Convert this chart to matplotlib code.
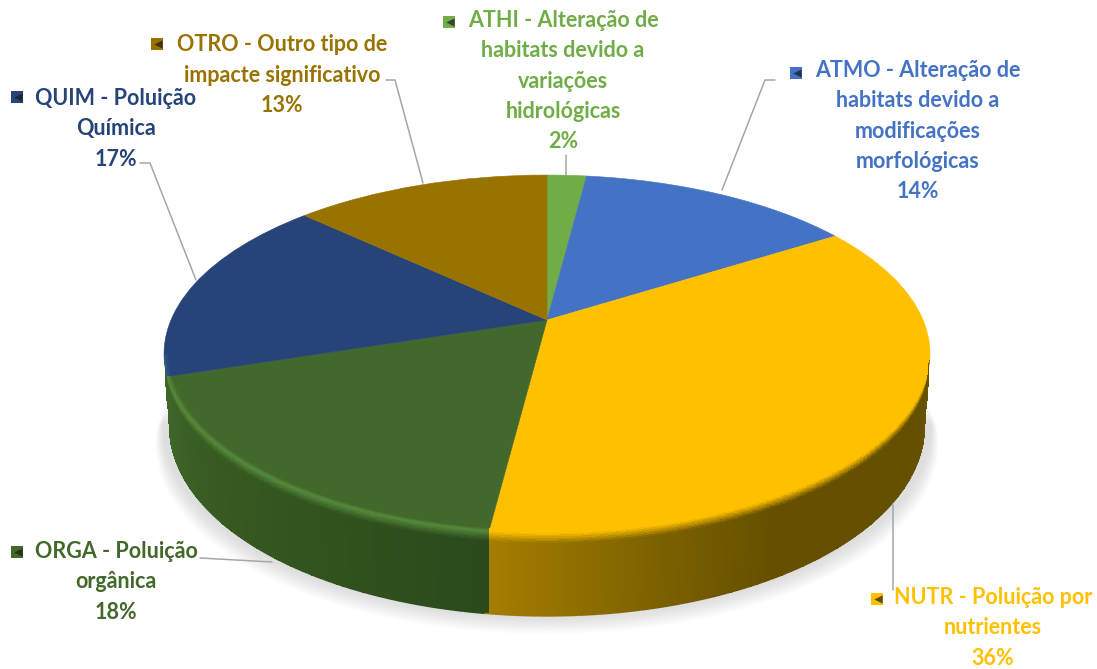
import numpy as np
import matplotlib
matplotlib.use("Agg")
import matplotlib.pyplot as plt
from matplotlib.transforms import Transform
from matplotlib.colors import to_rgb

codes = ["ATHI", "ATMO", "NUTR", "ORGA", "QUIM", "OTRO"]
values = [2, 14, 36, 18, 17, 13]
labels = [
    "ATHI - Alteração de\nhabitats devido a\nvariações\nhidrológicas\n2%",
    "ATMO - Alteração de\nhabitats devido a\nmodificações\nmorfológicas\n14%",
    "NUTR - Poluição por\nnutrientes\n36%",
    "ORGA - Poluição\norgânica\n18%",
    "QUIM - Poluição\nQuímica\n17%",
    "OTRO - Outro tipo de\nimpacte significativo\n13%",
]
face_colors = ["#70ad47", "#4472c4", "#ffc000", "#43682b", "#264478", "#997300"]

W, H = 1097, 669
CX, CY, AX, BY, K = 547.0, 320.0, 376.0, 172.5, 0.19


class Perspective(Transform):
    input_dims = output_dims = 2
    is_separable = False
    has_inverse = False

    def transform_non_affine(self, pts):
        pts = np.asarray(pts, float)
        den = 1 + K * pts[:, 1]
        return np.column_stack((CX + AX * pts[:, 0] / den, CY - BY * pts[:, 1] / den))


persp = Perspective()


def rim(theta, r=1.0):
    return persp.transform_non_affine(
        np.column_stack((r * np.sin(theta), r * np.cos(theta))))


def depth(theta):
    return 70 - 13 * np.cos(theta)


fig = plt.figure(figsize=(W / 100, H / 100), dpi=100)
ax = fig.add_axes([0, 0, 1, 1])

wedges, _ = ax.pie(values, colors=face_colors, startangle=90, counterclock=False,
                   wedgeprops=dict(linewidth=0.4))
for w, c in zip(wedges, face_colors):
    w.set_edgecolor(c)
    w.set_transform(persp + ax.transData)
    w.set_zorder(3)

ax.set_aspect("auto")
ax.set_xlim(0, W)
ax.set_ylim(H, 0)
ax.axis("off")

# soft shadow under the disc
th_s = np.radians(np.linspace(95, 265, 200))
for i in range(1, 13):
    p = rim(th_s)
    x = CX + (p[:, 0] - CX) * (1 + 0.0018 * i)
    y = p[:, 1] + depth(th_s) + 1.5 * i
    ax.fill(x, y, color="#808080", alpha=0.018, lw=0, zorder=1)

# side wall
edges = np.cumsum([0] + values) / sum(values) * 360
wall_tables = {
    "NUTR": ([101, 112, 150, 165, 187.2], ["#6a5500", "#655000", "#665000", "#7a6000", "#a57d00"], "#ffc000"),
    "ORGA": ([187.2, 215, 235, 252], ["#2b4a1c", "#33541f", "#385c22", "#3f6628"], "#558a3a"),
    "QUIM": ([252, 262], ["#3f6628", "#3f6628"], "#2c5595"),
}


def lerp(a, b, f):
    return tuple(np.array(a) + (np.array(b) - np.array(a)) * f)


deg = np.linspace(101, 259, 481)
u = np.concatenate((np.linspace(-1, 0, 7), np.linspace(0, 0.12, 7)[1:], np.linspace(0.12, 1, 5)[1:]))
th = np.radians(deg)
X = np.zeros((len(u), len(deg)))
Y = np.zeros_like(X)
for i, uu in enumerate(u):
    p = rim(th, 1 + 0.012 * min(uu, 0))
    g = max(uu, 0)
    X[i] = CX + (p[:, 0] - CX) * (1 - 0.015 * g)
    Y[i] = p[:, 1] + depth(th) * g

C = np.zeros((len(u) - 1, len(deg) - 1, 3))
for j in range(len(deg) - 1):
    m = 0.5 * (deg[j] + deg[j + 1])
    s = int(np.clip(np.searchsorted(edges, m) - 1, 0, len(values) - 1))
    face = to_rgb(face_colors[s])
    xs, cs, hl = wall_tables.get(codes[s], ([0, 360], ["#333333", "#333333"], "#666666"))
    rgb = np.array([to_rgb(c) for c in cs])
    wall = [np.interp(m, xs, rgb[:, k]) for k in range(3)]
    hl = to_rgb(hl)
    for i in range(len(u) - 1):
        um = 0.5 * (u[i] + u[i + 1])
        if um < 0:
            C[i, j] = lerp(face, hl, um + 1)
        elif um < 0.12:
            C[i, j] = lerp(hl, wall, um / 0.12)
        else:
            C[i, j] = wall
ax.pcolormesh(X, Y, C, shading="flat", zorder=4, antialiased=False, linewidth=0)

# smooth the lower rim of the wall
for j in range(0, len(deg) - 4, 4):
    ax.plot(X[-1, j:j + 5], Y[-1, j:j + 5], color=C[-1, j], lw=1.0, zorder=4.5,
            solid_capstyle="butt")

# leader lines
leaders = [
    ([566, 566], [155, 176]),
    ([775, 765, 722], [80, 80, 190]),
    ([893, 893], [505, 590]),
    ([200, 272], [558, 562]),
    ([140, 150, 196], [163, 163, 280]),
    ([386, 395, 423], [80, 80, 183]),
]
for lx, ly in leaders:
    ax.plot(lx, ly, color="#a6a6a6", lw=1.1, zorder=2, solid_capstyle="round")

# labels
text_pos = [(563, 81), (918, 131), (993, 628), (116, 582), (116, 129), (282, 75)]
mark_pos = [(449, 22), (796, 73), (877, 599), (17, 552), (17, 97), (157, 44)]
for lab, c, (tx, ty), (mx, my) in zip(labels, face_colors, text_pos, mark_pos):
    ax.text(tx, ty, lab, color=c, ha="center", va="center", fontsize=15.5,
            family="Lato", fontweight="bold", linespacing=1.54, zorder=6)
    ax.scatter([mx], [my], marker="s", s=80, color=c, linewidths=0, zorder=6)
    ax.scatter([mx + 1], [my], marker="<", s=36, color="#1a1a1a", alpha=0.7, linewidths=0, zorder=7)

fig.savefig("out.png", dpi=100, facecolor="white")
